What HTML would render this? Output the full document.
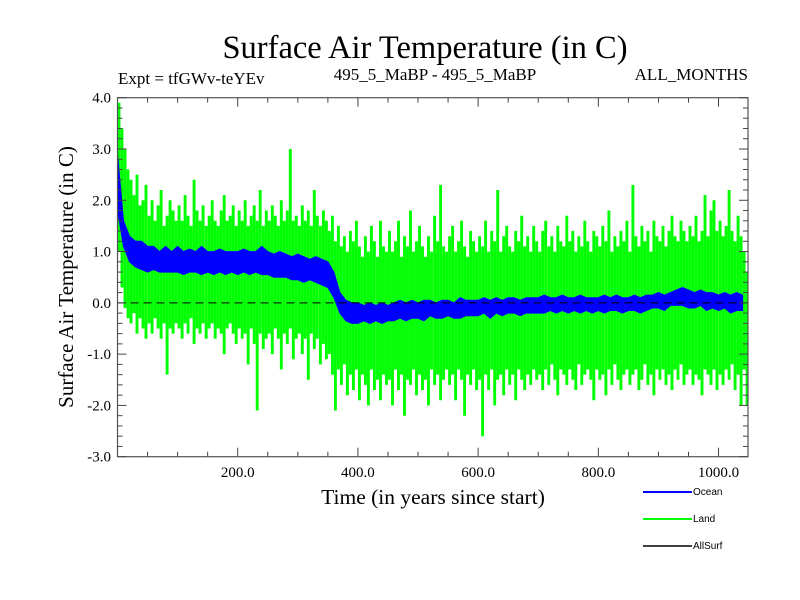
<!DOCTYPE html>
<html><head><meta charset="utf-8">
<style>
html,body{margin:0;padding:0;background:#fff;}
svg{display:block;font-family:"Liberation Serif",serif;}
</style></head>
<body>
<svg id="chart" width="800" height="600" viewBox="0 0 800 600" xmlns="http://www.w3.org/2000/svg">
<rect width="800" height="600" fill="#fff"/>
<text x="425" y="58" font-size="32.5" text-anchor="middle">Surface Air Temperature (in C)</text>
<text x="118" y="84" font-size="17">Expt = tfGWv-teYEv</text>
<text x="435" y="80" font-size="17" text-anchor="middle">495_5_MaBP - 495_5_MaBP</text>
<text x="748" y="80" font-size="17" text-anchor="end">ALL_MONTHS</text>
<g id="plot"></g>
<text x="433" y="504" font-size="21.5" text-anchor="middle">Time (in years since start)</text>
<text transform="translate(73,277) rotate(-90)" font-size="21" text-anchor="middle">Surface Air Temperature (in C)</text>
<g font-family="Liberation Sans, sans-serif" font-size="10">
<line x1="643" y1="492" x2="692" y2="492" stroke="#0000ff" stroke-width="2"/>
<text x="693" y="495">Ocean</text>
<line x1="643" y1="519" x2="692" y2="519" stroke="#00ff00" stroke-width="2"/>
<text x="693" y="522">Land</text>
<line x1="643" y1="546" x2="692" y2="546" stroke="#000" stroke-width="1.5"/>
<text x="693" y="549">AllSurf</text>
</g>
</svg>
<script>
const landHi=[3.9,3.4,3.0,2.6,2.4,2.1,2.5,1.9,2.0,2.3,
1.7,2.0,1.6,1.9,2.2,1.5,1.7,2.0,1.8,1.6,
1.9,1.6,2.1,1.7,1.5,2.4,1.8,1.6,1.9,1.5,
1.7,2.0,1.6,1.5,1.8,2.1,1.6,1.7,1.9,1.5,
1.8,1.6,2.0,1.5,1.7,1.9,1.6,2.2,1.5,1.8,
1.6,1.9,1.7,1.5,2.0,1.6,1.8,3.0,1.6,1.7,
1.5,1.9,1.6,1.8,1.5,2.2,1.7,1.5,1.8,1.6,
1.4,1.7,1.2,1.5,1.1,1.3,1.0,1.4,1.2,1.6,
1.1,0.9,1.3,1.0,1.5,1.2,0.9,1.6,1.1,1.0,
1.4,1.0,1.2,1.6,0.9,1.3,1.1,1.8,1.0,1.2,
1.5,1.1,0.9,1.3,1.0,1.7,1.2,2.3,1.1,1.0,
1.3,1.5,1.0,1.2,1.6,1.1,0.9,1.4,1.2,1.0,
1.3,1.1,1.6,1.0,1.4,1.2,2.2,1.0,1.3,1.5,
1.1,1.0,1.4,1.2,1.7,1.1,1.3,1.0,1.5,1.2,
1.0,1.4,1.6,1.1,1.3,1.0,1.5,1.2,1.1,1.7,
1.2,1.4,1.0,1.3,1.1,1.6,1.2,1.0,1.4,1.3,
1.1,1.5,1.2,1.8,1.0,1.3,1.1,1.4,1.2,1.6,
1.0,2.3,1.3,1.1,1.5,1.2,1.4,1.0,1.6,1.3,
1.2,1.5,1.1,1.4,1.7,1.3,1.2,1.6,1.4,1.2,
1.5,1.3,1.7,1.2,1.4,2.1,1.3,1.8,2.0,1.4,
1.6,1.3,1.5,2.2,1.4,1.2,1.7,1.3,1.0,0.6];
const landLo=[1.0,0.3,-0.1,-0.3,-0.4,-0.2,-0.6,-0.3,-0.5,-0.7,
-0.4,-0.6,-0.3,-0.5,-0.7,-0.4,-1.4,-0.5,-0.6,-0.4,
-0.5,-0.7,-0.4,-0.6,-0.3,-0.8,-0.5,-0.6,-0.4,-0.7,
-0.5,-0.4,-0.7,-0.5,-0.6,-1.0,-0.5,-0.4,-0.6,-0.8,
-0.5,-0.7,-0.6,-1.2,-0.5,-0.8,-2.1,-0.6,-0.9,-0.7,
-0.6,-1.0,-0.5,-0.7,-1.3,-0.6,-0.8,-0.5,-1.1,-0.7,
-0.6,-1.0,-0.7,-1.5,-0.6,-0.9,-0.7,-1.2,-0.8,-1.1,
-1.0,-1.4,-2.1,-1.3,-1.6,-1.2,-1.8,-1.4,-1.7,-1.3,
-1.9,-1.4,-1.6,-2.0,-1.3,-1.7,-1.5,-1.9,-1.4,-1.6,
-1.5,-2.0,-1.3,-1.7,-1.4,-2.2,-1.5,-1.6,-1.3,-1.8,
-1.4,-1.7,-1.5,-2.0,-1.3,-1.6,-1.4,-1.9,-1.5,-1.3,
-1.6,-1.4,-1.9,-1.3,-1.5,-2.2,-1.4,-1.6,-1.3,-1.7,
-1.5,-2.6,-1.4,-1.7,-1.3,-2.0,-1.5,-1.4,-1.8,-1.3,
-1.6,-1.4,-1.9,-1.3,-1.5,-1.7,-1.4,-1.6,-1.3,-1.5,
-1.4,-1.7,-1.3,-1.6,-1.2,-1.5,-1.8,-1.3,-1.4,-1.6,
-1.3,-1.5,-1.7,-1.2,-1.6,-1.4,-1.3,-1.5,-1.9,-1.3,
-1.5,-1.4,-1.8,-1.3,-1.6,-1.2,-1.5,-1.7,-1.4,-1.3,
-1.6,-1.4,-1.3,-1.7,-1.5,-1.2,-1.6,-1.4,-1.8,-1.3,
-1.5,-1.3,-1.6,-1.4,-1.7,-1.3,-1.5,-1.2,-1.6,-1.4,
-1.3,-1.6,-1.4,-1.5,-1.8,-1.3,-1.4,-1.6,-1.3,-1.7,
-1.4,-1.6,-1.3,-1.5,-1.2,-1.7,-1.4,-2.0,-1.3,-2.0];
const oceanHi=[2.9,1.6,1.3,1.2,1.2,1.1,1.1,1.0,1.1,1.0,
1.1,1.0,1.05,1.0,1.1,1.0,1.0,1.05,1.0,1.0,
1.0,1.05,1.0,1.0,1.1,1.0,0.95,1.0,0.95,0.9,
0.95,0.9,0.85,0.9,0.85,0.8,0.6,0.2,0.05,0.0,
0.0,-0.05,0.0,-0.05,0.0,-0.05,0.0,0.05,0.0,0.05,
0.0,0.05,0.05,0.0,0.05,0.05,0.0,0.1,0.05,0.05,
0.05,0.1,0.05,0.1,0.05,0.1,0.1,0.05,0.1,0.1,
0.1,0.15,0.1,0.1,0.15,0.1,0.1,0.15,0.1,0.1,
0.1,0.15,0.1,0.15,0.1,0.1,0.15,0.1,0.15,0.15,
0.2,0.15,0.2,0.25,0.3,0.25,0.2,0.25,0.2,0.2,
0.15,0.2,0.15,0.2,0.15];
const oceanLo=[1.8,1.1,0.8,0.7,0.65,0.6,0.65,0.6,0.6,0.6,
0.6,0.55,0.6,0.6,0.55,0.6,0.55,0.6,0.55,0.6,
0.55,0.6,0.55,0.6,0.55,0.55,0.5,0.5,0.5,0.45,
0.45,0.4,0.45,0.4,0.35,0.3,0.1,-0.2,-0.35,-0.4,
-0.4,-0.35,-0.4,-0.35,-0.4,-0.35,-0.35,-0.3,-0.35,-0.3,
-0.3,-0.35,-0.25,-0.3,-0.3,-0.25,-0.3,-0.3,-0.25,-0.25,
-0.25,-0.2,-0.3,-0.2,-0.25,-0.2,-0.2,-0.25,-0.2,-0.2,
-0.2,-0.2,-0.15,-0.2,-0.15,-0.2,-0.15,-0.2,-0.15,-0.2,
-0.15,-0.2,-0.15,-0.15,-0.2,-0.15,-0.15,-0.2,-0.15,-0.1,
-0.1,-0.15,-0.05,-0.05,-0.05,-0.1,-0.1,-0.05,-0.15,-0.1,
-0.15,-0.1,-0.2,-0.15,-0.15];
const landStep=5, oceanStep=10;
const xTicks=[200,400,600,800,1000];
const xTickLabels=["200.0","400.0","600.0","800.0","1000.0"];
const yTicks=[4,3,2,1,0,-1,-2,-3];
const yTickLabels=["4.0","3.0","2.0","1.0","0.0","-1.0","-2.0","-3.0"];

const L=117.5,R=748,T=97.7,B=456.7,X0=0,X1=1049,Y0=-3,Y1=4;
const sx=v=>L+(v-X0)/(X1-X0)*(R-L);
const sy=v=>B-(v-Y0)/(Y1-Y0)*(B-T);
const NS="http://www.w3.org/2000/svg";
const g=document.getElementById('plot');
function mk(tag,attrs,parent){const e=document.createElementNS(NS,tag);for(const k in attrs)e.setAttribute(k,attrs[k]);(parent||g).appendChild(e);return e;}

const defs=mk('defs',{});
const cp=mk('clipPath',{id:'clip'},defs);
mk('rect',{x:L,y:T,width:R-L,height:B-T},cp);
const series=mk('g',{'clip-path':'url(#clip)'});



// land: one vertical stroke per bin
let d='';
for(let i=0;i<landHi.length;i++){
  const x=sx(i*landStep+landStep/2).toFixed(1);
  d+='M'+x+' '+sy(landHi[i]).toFixed(1)+'V'+sy(landLo[i]).toFixed(1);
}
const land=mk('path',{d:d,fill:'none',stroke:'#00ff00','stroke-width':2.9},series);



// ocean band
let up=[],dn=[];
for(let i=0;i<oceanHi.length;i++){
  up.push(sx(i*oceanStep).toFixed(1)+','+sy(oceanHi[i]).toFixed(1));
  dn.unshift(sx(i*oceanStep).toFixed(1)+','+sy(oceanLo[i]).toFixed(1));
}
const oband=mk('polygon',{points:up.concat(dn).join(' '),fill:'#0000ff',stroke:'#0000ff','stroke-width':1},series);



const zl=mk('line',{x1:L,x2:R,y1:sy(0),y2:sy(0),stroke:'#000','stroke-width':1,'stroke-dasharray':'8,5'});



const fr=mk('rect',{x:L,y:T,width:R-L,height:B-T,fill:'none',stroke:'#555','stroke-width':1.2});



for(let v=50;v<X1;v+=50){
  const major=v%200===0, len=major?9:5;
  for(const [y,dd] of [[B,-1],[T,1]]){
    const t=mk('line',{x1:sx(v),x2:sx(v),y1:y,y2:y+dd*len,stroke:'#444','stroke-width':1});
    
    
  }
}
xTicks.forEach((v,i)=>{
  const t=mk('text',{x:sx(v),y:477,'font-size':15,'text-anchor':'middle'});
  t.textContent=xTickLabels[i];
  
  
});
for(let k=0;k<=35;k++){
  const v=Y0+k*0.2, major=k%5===0, len=major?9:5;
  for(const [x,dd] of [[L,1],[R,-1]]){
    const t=mk('line',{x1:x,x2:x+dd*len,y1:sy(v),y2:sy(v),stroke:'#444','stroke-width':1});
    
    
  }
}
yTicks.forEach((v,i)=>{
  const t=mk('text',{x:111,y:sy(v)+5,'font-size':15,'text-anchor':'end'});
  t.textContent=yTickLabels[i];
  
  
});
</script>
</body></html>
